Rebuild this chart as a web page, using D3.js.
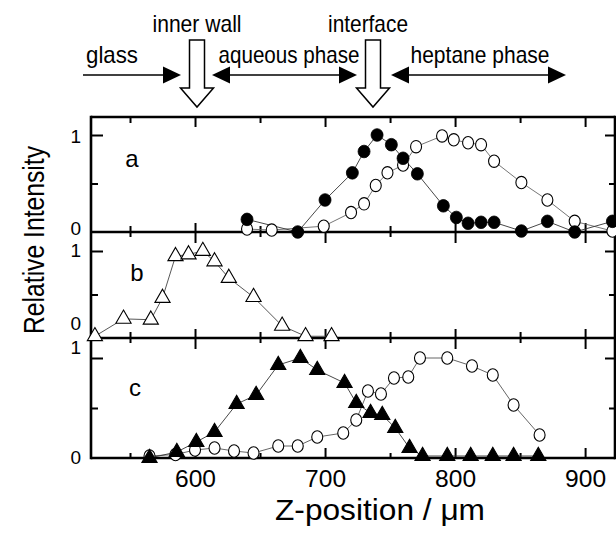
<!DOCTYPE html>
<html><head><meta charset="utf-8">
<script src="https://cdn.jsdelivr.net/npm/d3@7"></script>
<style>
body{margin:0;background:#fff}
svg{display:block}
text{font-family:"Liberation Sans Narrow","Liberation Sans",Arial,sans-serif;fill:#000}
</style>
</head><body>
<svg id="chart" width="616" height="533"></svg>
<script>
// ---- data ----
const xMajorTicks = [600, 700, 800, 900];
const xMinorTicks = [550, 650, 750, 850];
const yTickLabels = ["0", "1"];

const aFilledZ = [640, 679, 700, 721, 730, 740, 751, 760, 771, 791, 801, 810, 820, 830, 851, 871, 892, 921];
const aFilledI = [0.13, 0.0, 0.33, 0.61, 0.83, 1.0, 0.9, 0.76, 0.6, 0.27, 0.15, 0.09, 0.1, 0.1, 0.01, 0.11, 0.0, 0.11];
const aOpenZ = [640, 659, 699, 720, 730, 739, 748, 760, 770, 790, 799, 810, 820, 830, 851, 871, 892, 921];
const aOpenI = [0.03, 0.02, 0.06, 0.2, 0.29, 0.48, 0.61, 0.69, 0.88, 0.99, 0.95, 0.92, 0.9, 0.73, 0.51, 0.33, 0.11, 0.01];

const bOpenTriZ = [523, 545, 566, 575, 585, 595, 606, 615, 626, 645, 667, 685, 705];
const bOpenTriI = [0.02, 0.22, 0.21, 0.46, 0.94, 0.96, 1.0, 0.88, 0.69, 0.47, 0.14, 0.02, 0.02];

const cFilledTriZ = [565, 586, 601, 615, 632, 647, 664, 681, 694, 715, 724, 735, 744, 754, 765, 775, 794, 812, 829, 845, 864];
const cFilledTriI = [0.0, 0.06, 0.16, 0.26, 0.54, 0.63, 0.93, 1.0, 0.88, 0.75, 0.55, 0.45, 0.43, 0.3, 0.1, 0.02, 0.02, 0.02, 0.02, 0.02, 0.02];
const cOpenZ = [565, 585, 600, 615, 630, 645, 664, 679, 694, 714, 724, 733, 743, 753, 764, 773, 794, 813, 829, 845, 865];
const cOpenI = [0.02, 0.035, 0.08, 0.1, 0.07, 0.05, 0.12, 0.12, 0.21, 0.25, 0.38, 0.67, 0.64, 0.8, 0.81, 1.0, 1.0, 0.92, 0.83, 0.53, 0.23];

const panelNames = ["a", "b", "c"];

// ---- layout ----
const svg = d3.select("#chart");
const L0 = 91, R0 = 615, T0 = 117, B0 = 458;
const x = d3.scaleLinear().domain([520, 923]).range([L0, R0]);
const panels = [
  {name: "a", y: d3.scaleLinear().domain([0, 1]).range([232, 135]), lab0: 228, lab1: 136},
  {name: "b", y: d3.scaleLinear().domain([0, 1]).range([338, 251]), lab0: 323, lab1: 250},
  {name: "c", y: d3.scaleLinear().domain([0, 1]).range([458, 358]), lab0: 457, lab1: 347}
];
const lw = 2.6;

const g = svg.append("g");
function tickGroup(axis, tx, ty, sw) {
  const s = g.append("g").attr("transform", `translate(${tx},${ty})`).call(axis);
  s.select(".domain").remove();
  s.selectAll("line").attr("stroke", "#000").attr("stroke-width", sw || 2);
  return s;
}

// frame
g.append("line").attr("x1", L0).attr("x2", R0).attr("y1", T0).attr("y2", T0).attr("stroke", "#000").attr("stroke-width", lw);
g.append("line").attr("x1", L0).attr("x2", R0).attr("y1", B0).attr("y2", B0).attr("stroke", "#000").attr("stroke-width", lw);
g.append("line").attr("x1", L0).attr("x2", L0).attr("y1", T0 - lw/2).attr("y2", B0 + lw/2).attr("stroke", "#000").attr("stroke-width", lw);
g.append("line").attr("x1", R0).attr("x2", R0).attr("y1", T0 - lw/2).attr("y2", B0 + lw/2).attr("stroke", "#000").attr("stroke-width", lw);

// x ticks: top (down), bottom (up)
tickGroup(d3.axisBottom(x).tickValues(xMajorTicks).tickSize(10).tickFormat(""), 0, T0);
tickGroup(d3.axisBottom(x).tickValues(xMinorTicks).tickSize(6).tickFormat(""), 0, T0);
tickGroup(d3.axisTop(x).tickValues(xMajorTicks).tickSize(10).tickFormat(""), 0, B0);
tickGroup(d3.axisTop(x).tickValues(xMinorTicks).tickSize(5).tickFormat(""), 0, B0);

// bottom tick labels
const lab = g.append("g").attr("transform", `translate(0,${B0})`)
  .call(d3.axisBottom(x).tickValues(xMajorTicks).tickSize(0).tickPadding(12).tickFormat(d3.format("d")));
lab.select(".domain").remove();
lab.selectAll("text").attr("font-family", null).attr("font-size", 24).attr("fill", "#000")
  .attr("textLength", 41).attr("lengthAdjust", "spacingAndGlyphs");

// divider lines between panels with crossing ticks
[panels[0], panels[1]].forEach(p => {
  const y0 = p.y(0);
  g.append("line").attr("x1", L0).attr("x2", R0).attr("y1", y0).attr("y2", y0).attr("stroke", "#000").attr("stroke-width", lw);
  tickGroup(d3.axisTop(x).tickValues(xMajorTicks).tickSize(9).tickFormat(""), 0, y0);
  tickGroup(d3.axisBottom(x).tickValues(xMajorTicks).tickSize(11).tickFormat(""), 0, y0);
  tickGroup(d3.axisTop(x).tickValues(xMinorTicks).tickSize(6).tickFormat(""), 0, y0);
  tickGroup(d3.axisBottom(x).tickValues(xMinorTicks).tickSize(5).tickFormat(""), 0, y0);
});

// y ticks and labels per panel
panels.forEach(p => {
  tickGroup(d3.axisRight(p.y).tickValues([1]).tickSize(12).tickFormat(""), L0, 0);
  tickGroup(d3.axisRight(p.y).tickValues([0.5]).tickSize(7).tickFormat(""), L0, 0);
  tickGroup(d3.axisLeft(p.y).tickValues([1]).tickSize(10).tickFormat(""), R0, 0);
  tickGroup(d3.axisLeft(p.y).tickValues([0.5]).tickSize(6).tickFormat(""), R0, 0);
  g.append("text").attr("x", 81).attr("y", p.lab1).attr("text-anchor", "end").attr("dominant-baseline", "central").attr("font-size", 19).text(yTickLabels[1]);
  g.append("text").attr("x", 81).attr("y", p.lab0).attr("text-anchor", "end").attr("dominant-baseline", "central").attr("font-size", 19).text(yTickLabels[0]);
});

// panel letters
const letterPos = [[132, 158], [137, 272], [135, 387]];
panelNames.forEach((n, i) => {
  g.append("text").attr("x", letterPos[i][0]).attr("y", letterPos[i][1]).attr("text-anchor", "middle")
    .attr("dominant-baseline", "central").attr("font-size", 24).text(n);
});

// series drawing helpers
function drawLine(p, zs, is, color) {
  const line = d3.line().x((d, i) => x(zs[i])).y((d, i) => p.y(is[i]));
  g.append("path").datum(zs).attr("d", line).attr("fill", "none").attr("stroke", color).attr("stroke-width", 0.9);
}
function drawCircles(p, zs, is, filled) {
  g.append("g").selectAll("ellipse").data(zs).join("ellipse")
    .attr("cx", (d) => x(d)).attr("cy", (d, i) => p.y(is[i]))
    .attr("rx", filled ? 6 : 5.5).attr("ry", filled ? 6.3 : 6.2)
    .attr("fill", filled ? "#000" : "#fff").attr("stroke", "#000").attr("stroke-width", filled ? 0.8 : 1.1);
}
function drawTriangles(p, zs, is, filled) {
  const sym = d3.symbol().type(d3.symbolTriangle).size(100);
  g.append("g").selectAll("path").data(zs).join("path")
    .attr("d", sym).attr("transform", (d, i) => `translate(${x(d)},${p.y(is[i])})`)
    .attr("fill", filled ? "#000" : "#fff").attr("stroke", "#000").attr("stroke-width", 1.1);
}

// panel a
drawLine(panels[0], aOpenZ, aOpenI, "#666");
drawLine(panels[0], aFilledZ, aFilledI, "#333");
drawCircles(panels[0], aOpenZ, aOpenI, false);
drawCircles(panels[0], aFilledZ, aFilledI, true);
// panel b
drawLine(panels[1], bOpenTriZ, bOpenTriI, "#444");
drawTriangles(panels[1], bOpenTriZ, bOpenTriI, false);
// panel c
drawLine(panels[2], cOpenZ, cOpenI, "#555");
drawLine(panels[2], cFilledTriZ, cFilledTriI, "#333");
drawCircles(panels[2], cOpenZ, cOpenI, false);
drawTriangles(panels[2], cFilledTriZ, cFilledTriI, true);

// axis titles
g.append("text").attr("x", 380).attr("y", 520).attr("text-anchor", "middle").attr("font-size", 29)
  .attr("textLength", 210).attr("lengthAdjust", "spacingAndGlyphs").text("Z-position / μm");
g.append("text").attr("transform", "translate(34,240) rotate(-90)").attr("text-anchor", "middle")
  .attr("dominant-baseline", "central").attr("font-size", 29)
  .attr("textLength", 188).attr("lengthAdjust", "spacingAndGlyphs").text("Relative Intensity");

// annotations
const ann = svg.append("g");
function label(txt, cx, base, w) {
  ann.append("text").attr("x", cx).attr("y", base).attr("text-anchor", "middle").attr("font-size", 24)
    .attr("textLength", w).attr("lengthAdjust", "spacingAndGlyphs").text(txt);
}
label("inner wall", 197, 32, 89);
label("interface", 368, 32, 80);
label("glass", 112, 63, 52);
label("aqueous phase", 289, 63, 141);
label("heptane phase", 480, 63, 139);

const ay = 75;
function headAt(tipX, dir) {
  const L = 18, H = 8.5;
  ann.append("path").attr("d", `M${tipX},${ay} L${tipX - dir*L},${ay - H} L${tipX - dir*L},${ay + H} Z`).attr("fill", "#000");
}
function hline(x1, x2) {
  ann.append("line").attr("x1", x1).attr("x2", x2).attr("y1", ay).attr("y2", ay).attr("stroke", "#000").attr("stroke-width", 1.3);
}
hline(83, 170); headAt(181, 1);
hline(220, 350); headAt(212, -1); headAt(357, 1);
hline(400, 558); headAt(391, -1); headAt(566, 1);

function hollowArrow(cx) {
  const sw = 7.5, hw = 16.5, yTop = 40, yHead = 88, yTip = 107;
  ann.append("path").attr("d",
    `M${cx - sw},${yTop} L${cx + sw},${yTop} L${cx + sw},${yHead} L${cx + hw},${yHead} L${cx},${yTip} L${cx - hw},${yHead} L${cx - sw},${yHead} Z`)
    .attr("fill", "#fff").attr("stroke", "#000").attr("stroke-width", 1.5);
}
hollowArrow(197);
hollowArrow(373);
</script>
</body></html>
